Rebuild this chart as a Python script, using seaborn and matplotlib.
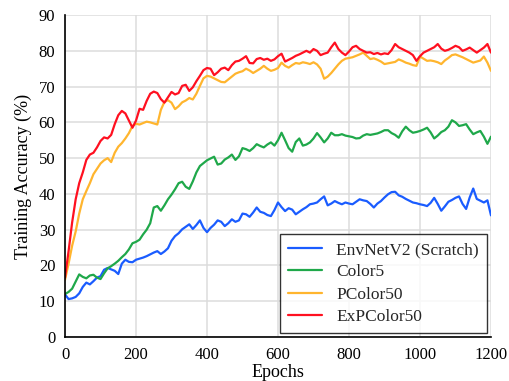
import matplotlib
matplotlib.use("Agg")
import matplotlib.pyplot as plt
import seaborn as sns
import pandas as pd
import numpy as np

epochs = np.arange(0, 1201, 10)

envnet = [
    11.9, 10.6, 10.8, 11.2, 12.2, 14.0, 15.2, 14.7, 15.6, 16.6,
    17.0, 18.8, 19.3, 18.9, 18.5, 17.6, 20.5, 21.6, 21.0, 20.9,
    21.6, 21.9, 22.2, 22.6, 23.1, 23.6, 24.0, 23.2, 23.9, 24.8,
    26.9, 28.2, 29.0, 30.1, 30.8, 31.5, 30.2, 31.3, 32.6, 30.5,
    29.3, 30.5, 31.4, 32.6, 32.2, 31.0, 31.8, 32.9, 32.2, 32.6,
    34.5, 34.3, 33.6, 34.8, 36.2, 35.0, 34.7, 34.1, 33.8, 35.5,
    37.6, 36.3, 35.2, 36.0, 35.6, 34.3, 35.0, 35.7, 36.3, 37.1,
    37.3, 37.6, 38.5, 39.3, 36.8, 37.3, 38.0, 37.5, 37.1, 37.6,
    37.3, 37.1, 37.8, 38.5, 38.2, 38.0, 37.2, 36.2, 37.3, 38.0,
    39.0, 39.9, 40.5, 40.6, 39.6, 39.2, 38.6, 38.1, 37.6, 37.4,
    37.1, 36.9, 36.6, 37.5, 38.9, 37.2, 35.3, 36.5, 37.8, 38.3,
    38.9, 39.3, 37.2, 35.8, 39.0, 41.5, 38.6, 38.1, 37.6, 38.2,
    34.0,
]

color5 = [
    12.0, 12.6, 13.5, 15.5, 17.5, 16.8, 16.4, 17.2, 17.4, 16.6,
    16.2, 17.8, 19.2, 19.8, 20.5, 21.3, 22.3, 23.2, 24.5, 26.2,
    26.6, 27.2, 28.7, 30.0, 31.8, 36.2, 36.6, 35.3, 36.8, 38.5,
    39.8, 41.3, 43.0, 43.4, 42.0, 41.4, 43.5, 46.0, 47.8, 48.6,
    49.4, 49.9, 50.4, 48.2, 48.5, 49.6, 50.2, 51.0, 49.5, 50.5,
    52.8, 52.5, 52.0, 52.8, 53.9, 53.4, 53.0, 53.8, 54.4, 53.5,
    55.0, 57.1, 55.0, 52.8, 51.8, 54.5, 55.5, 53.5, 53.8, 54.4,
    55.5, 57.0, 55.8, 54.4, 55.5, 57.1, 56.4, 56.4, 56.7, 56.3,
    56.1, 55.9, 55.5, 55.6, 56.3, 56.7, 56.5, 56.7, 56.9, 57.3,
    57.8, 57.8, 57.0, 56.5, 55.7, 57.5, 58.8, 57.8, 57.1, 57.3,
    57.6, 58.0, 58.5, 57.2, 55.5, 56.3, 57.3, 57.8, 58.8, 60.6,
    60.0, 59.0, 59.2, 59.5, 58.0, 56.7, 57.2, 57.6, 56.0, 54.0,
    56.0,
]

pcolor50 = [
    16.0, 20.5, 25.5, 29.5, 34.5, 38.5, 40.8, 43.0, 45.5, 47.0,
    48.5, 49.4, 50.0, 48.9, 51.5, 53.2, 54.2, 55.5, 57.0, 59.0,
    59.6, 59.4, 59.8, 60.2, 60.0, 59.7, 59.4, 63.5, 65.7, 66.2,
    65.5, 63.7, 64.5, 65.6, 66.1, 66.8, 66.4, 68.0, 70.2, 72.3,
    73.0, 72.8, 72.3, 71.8, 71.3, 71.2, 72.0, 72.8, 73.6, 74.0,
    74.3, 75.0, 74.5, 73.8, 74.4, 75.0, 75.8, 75.0, 74.4, 74.7,
    75.2, 76.7, 75.8, 75.3, 76.0, 76.6, 76.4, 76.8, 76.6, 76.3,
    76.8, 76.2, 75.0, 72.2, 72.8, 73.8, 75.0, 76.2, 77.2, 77.8,
    78.0, 78.2, 78.6, 79.0, 79.5, 78.6, 77.7, 77.9, 77.5, 77.0,
    76.3, 76.5, 76.7, 76.9, 77.6, 77.2, 76.7, 76.4, 76.0, 75.8,
    78.4, 77.8, 77.2, 77.3, 77.1, 76.8, 76.3, 77.3, 78.0, 78.8,
    79.0, 78.6, 78.2, 77.7, 77.2, 76.7, 77.0, 77.3, 78.4, 76.7,
    74.4,
]

expcolor50 = [
    16.6, 24.0, 32.0, 38.5, 43.0, 46.0, 49.5, 51.0, 51.5, 53.0,
    54.8, 55.8, 55.5, 56.5, 59.5, 62.0, 63.2, 62.5, 60.5, 58.5,
    60.5, 63.8, 63.5, 66.0, 68.0, 68.6, 68.2, 66.5, 65.5, 67.0,
    68.5, 67.8, 68.2, 70.2, 70.5, 68.8, 69.8, 71.5, 73.0, 74.6,
    75.2, 75.0, 73.2, 74.0, 75.0, 75.3, 74.6, 76.0, 77.0, 77.2,
    77.8, 78.5, 76.6, 76.5, 77.7, 78.0, 77.5, 77.8, 77.2, 77.6,
    78.5, 79.2, 77.0, 77.5, 78.0, 78.6, 79.0, 79.5, 80.0, 79.5,
    80.5, 80.0, 78.8, 79.2, 79.5, 81.0, 82.3, 80.5, 79.5, 78.8,
    79.8, 81.0, 81.4, 80.5, 80.0, 79.5, 79.6, 79.1, 79.4, 79.0,
    79.3, 79.1, 80.2, 81.9, 81.0, 80.5, 80.0, 79.5, 78.8, 77.2,
    78.5, 79.5, 80.0, 80.5, 81.0, 81.9, 80.6, 80.0, 80.3, 80.8,
    81.4, 81.0, 80.0, 80.4, 80.9, 80.2, 79.5, 80.2, 80.9, 81.9,
    79.5,
]

labels = ["EnvNetV2 (Scratch)", "Color5", "PColor50", "ExPColor50"]
colors = ["#1a5cff", "#1fa84a", "#ffb52e", "#ff1020"]

df = pd.concat([
    pd.DataFrame({"Epochs": epochs, "acc": vals, "model": name})
    for name, vals in zip(labels, [envnet, color5, pcolor50, expcolor50])
])

sns.set_theme(style="whitegrid", rc={"grid.color": "#dcdcdc",
                                     "grid.linewidth": 1.1})
plt.rcParams["font.family"] = ["Liberation Serif", "DejaVu Serif"]

fig = plt.figure(figsize=(5.1, 3.81), dpi=100)
ax = fig.add_axes([0.1275, 0.1155, 0.8352, 0.845])

sns.lineplot(data=df, x="Epochs", y="acc", hue="model", hue_order=labels,
             palette=colors, linewidth=1.6, ax=ax)

ax.set_xlim(0, 1200)
ax.set_ylim(0, 90)
ax.set_xticks(range(0, 1201, 200))
ax.set_yticks(range(0, 91, 10))
ax.tick_params(labelsize=12, length=0, pad=7, colors="black")
ax.set_xlabel("Epochs", fontsize=13, labelpad=1, color="black")
ax.set_ylabel("Training Accuracy (%)", fontsize=13, labelpad=5,
              color="black")

for side in ["top", "right"]:
    ax.spines[side].set_visible(False)
for side in ["left", "bottom"]:
    ax.spines[side].set_color("black")
    ax.spines[side].set_linewidth(1.2)

leg = ax.legend(loc="lower right", fontsize=12.5, frameon=True,
                fancybox=False, borderaxespad=0.25, handlelength=2.0,
                borderpad=0.45, labelspacing=0.35, handletextpad=0.8)
leg.get_frame().set_edgecolor("black")
leg.get_frame().set_linewidth(1.0)
for line in leg.get_lines():
    line.set_linewidth(1.6)

fig.savefig("out.png", dpi=100)
